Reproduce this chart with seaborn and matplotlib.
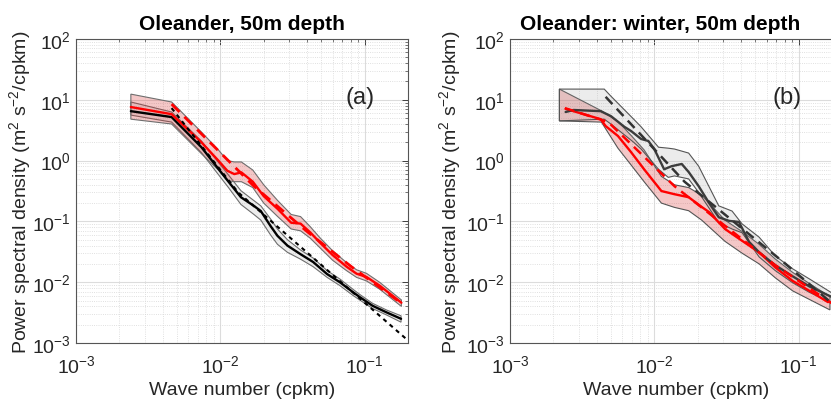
import matplotlib
matplotlib.use("Agg")
import matplotlib.pyplot as plt
import seaborn as sns
from matplotlib.ticker import LogLocator, NullFormatter

# ---- panel (a): Oleander, 50m depth ----
k_a_red = [0.0024, 0.0046, 0.0074, 0.0097, 0.0112, 0.0125, 0.0140, 0.0168, 0.020, 0.025,
           0.031, 0.036, 0.042, 0.049, 0.060, 0.075, 0.088, 0.103, 0.127, 0.180]
p_a_red = [7.6, 5.8, 2.0, 1.0, 0.68, 0.60, 0.64, 0.45, 0.26, 0.16,
           0.095, 0.092, 0.066, 0.045, 0.028, 0.018, 0.0138, 0.0122, 0.0088, 0.0046]
p_a_red_hi = [12.4, 9.2, 2.95, 1.5, 1.0, 0.95, 0.95, 0.70, 0.40, 0.22,
              0.13, 0.12, 0.082, 0.054, 0.033, 0.021, 0.016, 0.014, 0.0100, 0.0051]
p_a_red_lo = [4.8, 4.0, 1.3, 0.70, 0.47, 0.45, 0.45, 0.36, 0.20, 0.12,
              0.075, 0.07, 0.053, 0.037, 0.023, 0.0155, 0.0120, 0.0105, 0.0077, 0.0040]

k_a_blk = [0.0024, 0.0046, 0.0074, 0.0114, 0.0139, 0.0171, 0.0191, 0.0223, 0.0249, 0.0292,
           0.0359, 0.044, 0.055, 0.0674, 0.0828, 0.0925, 0.1135, 0.1416, 0.179]
p_a_blk = [6.5, 5.2, 1.66, 0.45, 0.25, 0.18, 0.148, 0.084, 0.058, 0.040,
           0.029, 0.0215, 0.0136, 0.0100, 0.0069, 0.0057, 0.0041, 0.0032, 0.0025]
p_a_blk_hi = [9.2, 6.3, 2.1, 0.58, 0.32, 0.22, 0.18, 0.11, 0.075, 0.050,
              0.034, 0.025, 0.0155, 0.0113, 0.0077, 0.0063, 0.0045, 0.0035, 0.0028]
p_a_blk_lo = [5.6, 4.3, 1.35, 0.36, 0.19, 0.13, 0.105, 0.060, 0.042, 0.031,
              0.024, 0.018, 0.0120, 0.0088, 0.0061, 0.0051, 0.0037, 0.0029, 0.0022]

k_a_red_fit = [0.0046, 0.0171, 0.040, 0.0815, 0.18]
p_a_red_fit = [8.5, 0.38, 0.068, 0.0178, 0.0045]
k_a_blk_fit = [0.0046, 0.0133, 0.2]
p_a_blk_fit = [7.3, 0.30, 0.0011]

# ---- panel (b): Oleander: winter, 50m depth ----
k_b_blk = [0.00243, 0.00276, 0.00425, 0.0050, 0.0062, 0.0069, 0.0081, 0.0091, 0.0100, 0.0117,
           0.0132, 0.0155, 0.0173, 0.0203, 0.024, 0.028, 0.033, 0.0386, 0.0454, 0.0533,
           0.069, 0.091, 0.119, 0.173]
p_b_blk = [6.3, 6.8, 6.5, 5.4, 3.6, 3.07, 2.27, 2.1, 1.55, 0.72,
           0.81, 0.88, 0.65, 0.38, 0.20, 0.117, 0.102, 0.098, 0.046, 0.031,
           0.019, 0.0125, 0.0085, 0.0056]
k_b_blk_band = [0.0022, 0.0045, 0.0050, 0.0072, 0.0081, 0.0107, 0.0125, 0.0138, 0.0173, 0.0203,
                0.028, 0.0346, 0.0406, 0.0533, 0.069, 0.091, 0.119, 0.173]
p_b_blk_hi = [15, 15, 11.5, 4.8, 3.6, 1.66, 1.6, 1.55, 1.33, 0.81,
              0.18, 0.148, 0.091, 0.055, 0.027, 0.0166, 0.0113, 0.0065]
p_b_blk_lo = [4.5, 4.8, 4.0, 2.0, 1.55, 0.72, 0.53, 0.56, 0.50, 0.30,
              0.095, 0.075, 0.065, 0.026, 0.0155, 0.0098, 0.0068, 0.0045]

k_b_red = [0.00243, 0.00425, 0.0046, 0.0056, 0.0069, 0.0085, 0.0112, 0.0138, 0.0173, 0.0213,
           0.0239, 0.0309, 0.0406, 0.0533, 0.069, 0.091, 0.119, 0.16]
p_b_red = [7.1, 4.8, 3.7, 2.54, 1.38, 0.72, 0.316, 0.28, 0.25, 0.173,
           0.143, 0.075, 0.048, 0.031, 0.0175, 0.0105, 0.0072, 0.0047]
k_b_red_band = [0.0022, 0.0043, 0.0056, 0.0069, 0.0085, 0.0112, 0.0138, 0.0173, 0.0213, 0.0309,
                0.0406, 0.0533, 0.069, 0.091, 0.119, 0.165]
p_b_red_hi = [15, 6.6, 4.4, 2.6, 1.5, 0.55, 0.40, 0.36, 0.27, 0.105,
              0.068, 0.042, 0.024, 0.0145, 0.0095, 0.0058]
p_b_red_lo = [4.5, 4.3, 1.6, 0.85, 0.45, 0.20, 0.17, 0.15, 0.105, 0.047,
              0.030, 0.020, 0.0118, 0.0072, 0.0052, 0.0035]

k_b_red_fit = [0.0024, 0.0048, 0.0138, 0.069, 0.17]
p_b_red_fit = [7.3, 4.3, 0.38, 0.019, 0.0045]
k_b_blk_fit = [0.0046, 0.0162, 0.0813, 0.19]
p_b_blk_fit = [11.2, 0.45, 0.02, 0.0036]

sns.set_theme(style="white")
plt.rcParams["font.family"] = ["Liberation Sans", "DejaVu Sans"]
plt.rcParams["mathtext.fontset"] = "custom"
plt.rcParams["mathtext.rm"] = "Liberation Sans"
plt.rcParams["mathtext.it"] = "Liberation Sans:italic"
plt.rcParams["mathtext.bf"] = "Liberation Sans:bold"

RED_FACE = (0.84, 0.13, 0.13, 0.25)
GRAY_FACE = (0.63, 0.63, 0.63, 0.2)


def band(ax, k, lo, hi, face, edge):
    xs = list(k) + list(k)[::-1]
    ys = list(hi) + list(lo)[::-1]
    ax.fill(xs, ys, facecolor=face, edgecolor=edge, linewidth=0.8, zorder=2)


def line(ax, k, p, color, ls="-", lw=1.7):
    sns.lineplot(x=k, y=p, ax=ax, color=color, linestyle=ls, linewidth=lw,
                 estimator=None, sort=False, zorder=3)


def style_axes(ax, title, title_x, tag, tag_x, ylab_x):
    ax.set_xscale("log")
    ax.set_yscale("log")
    ax.set_xlim(1e-3, 0.2)
    ax.set_ylim(1e-3, 1e2)
    ax.xaxis.set_minor_locator(LogLocator(base=10, subs=range(2, 10), numticks=20))
    ax.yaxis.set_minor_locator(LogLocator(base=10, subs=range(2, 10), numticks=20))
    ax.xaxis.set_minor_formatter(NullFormatter())
    ax.yaxis.set_minor_formatter(NullFormatter())
    ax.grid(True, which="major", color="#dcdcdc", linewidth=0.8, linestyle="-", zorder=0)
    ax.grid(True, which="minor", color="#d6d6d6", linewidth=0.6, linestyle=":", zorder=0)
    ax.set_axisbelow(True)
    ax.tick_params(which="both", direction="in", top=True, right=True, colors="#404040",
                   labelcolor="#262626", labelsize=14)
    ax.tick_params(which="major", length=4, width=0.7)
    ax.tick_params(which="minor", length=2, width=0.5)
    ax.tick_params(axis="x", pad=8)
    for s in ax.spines.values():
        s.set_color("#555555")
        s.set_linewidth(0.8)
    ax.set_title(title, fontsize=15, fontweight="bold", x=title_x, pad=7, color="black")
    ax.set_xlabel("Wave number (cpkm)", fontsize=14, color="#262626")
    ax.set_ylabel("Power spectral density (m$^2$ s$^{-2}$/cpkm)", fontsize=14, color="#262626")
    ax.yaxis.set_label_coords(ylab_x, 0.5)
    ax.xaxis.set_label_coords(0.5, -0.125)
    ax.text(tag_x, 0.81, tag, transform=ax.transAxes, fontsize=17, ha="center", va="center")


fig = plt.figure(figsize=(8.31, 4.02), dpi=100)
ax_a = fig.add_axes([76 / 831, 58 / 402, 332 / 831, 304 / 402])
ax_b = fig.add_axes([510 / 831, 58 / 402, 332 / 831, 304 / 402])

# panel (a)
band(ax_a, k_a_blk, p_a_blk_lo, p_a_blk_hi, GRAY_FACE, "#6e6e6e")
band(ax_a, k_a_red, p_a_red_lo, p_a_red_hi, RED_FACE, "#6e6e6e")
line(ax_a, k_a_blk, p_a_blk, "black")
line(ax_a, k_a_red, p_a_red, "#ff0000")
line(ax_a, k_a_blk_fit, p_a_blk_fit, "black", ls=(0, (2.0, 2.0)), lw=1.5)
line(ax_a, k_a_red_fit, p_a_red_fit, "#ff0000", ls=(0, (4.0, 2.5)), lw=2.0)
style_axes(ax_a, "Oleander, 50m depth", 0.5, "(a)", 0.855, -0.13)

# panel (b)
band(ax_b, k_b_red_band, p_b_red_lo, p_b_red_hi, RED_FACE, "#555555")
band(ax_b, k_b_blk_band, p_b_blk_lo, p_b_blk_hi, GRAY_FACE, "#555555")
line(ax_b, k_b_red, p_b_red, "#ff0000")
line(ax_b, k_b_blk, p_b_blk, "#3c3c3c")
line(ax_b, k_b_red_fit, p_b_red_fit, "#ff0000", ls=(0, (4.0, 2.5)), lw=1.8)
line(ax_b, k_b_blk_fit, p_b_blk_fit, "#333333", ls=(0, (4.0, 2.5)), lw=1.8)
style_axes(ax_b, "Oleander: winter, 50m depth", 0.452, "(b)", 0.834, -0.142)

fig.savefig("out.png", dpi=100)
